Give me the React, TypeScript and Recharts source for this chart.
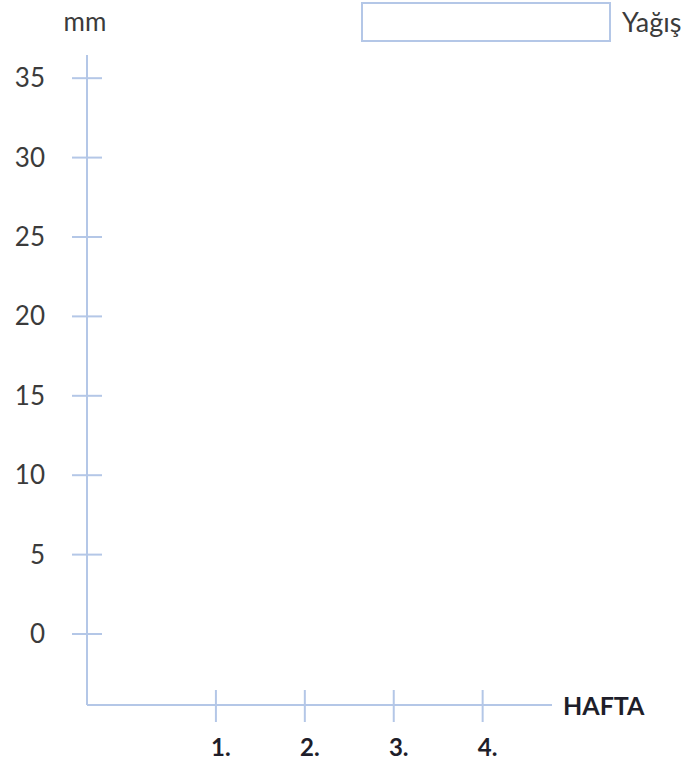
import React from 'react';
import { ComposedChart, Bar, XAxis, YAxis, Legend, Label } from 'recharts';

// Boş şablon: haftalık yağış (mm) — değerler henüz girilmemiş
const weeks = [1, 2, 3, 4];
const rainfall: (number | null)[] = [null, null, null, null];
const yTicks = [0, 5, 10, 15, 20, 25, 30, 35];
const seriesName = 'Yağış';

const data = weeks.map((w, i) => ({ week: w, yagis: rainfall[i] }));

const AXIS = '#b4c7e7';
const TEXT = '#3b3b3b';
const DARK = '#1e1e2a';
const FONT = 'Lato, "Open Sans", sans-serif';

const YTick = (props: any) => {
    const { x, y, payload } = props;
    return (
        <g>
            <line x1={x - 15} x2={x + 15} y1={y} y2={y} stroke={AXIS} strokeWidth={2} />
            <text x={x - 42} y={y} dy={9} textAnchor="end" fontSize={26} fill={TEXT} fontFamily={FONT}>
                {payload.value}
            </text>
        </g>
    );
};

const XTick = (props: any) => {
    const { x, y, payload } = props;
    return (
        <g>
            <line x1={x} x2={x} y1={y - 15} y2={y + 17} stroke={AXIS} strokeWidth={2} />
            <text x={x + 5} y={y + 51} textAnchor="middle" fontSize={24} fontWeight="bold" fill={DARK} fontFamily={FONT}>
                {`${payload.value}.`}
            </text>
        </g>
    );
};

const LegendBox = () => (
    <div style={{ display: 'flex', alignItems: 'center', fontFamily: FONT, height: 40 }}>
        <div style={{ width: 246, height: 36, border: `2px solid ${AXIS}`, background: '#fff' }} />
        <span style={{ marginLeft: 11, fontSize: 27, color: TEXT, lineHeight: '40px' }}>{seriesName}</span>
    </div>
);

export default function App() {
    return (
        <div style={{ position: 'absolute', left: 0, top: 0, background: '#fff' }}>
            <ComposedChart
                width={696}
                height={767}
                data={data}
                margin={{ top: 15, right: 144, bottom: 0, left: 0 }}
            >
                <XAxis
                    dataKey="week"
                    type="number"
                    domain={[-0.45, 4.78]}
                    ticks={weeks}
                    height={62}
                    stroke={AXIS}
                    strokeWidth={2}
                    tickLine={false}
                    tickSize={0}
                    tickMargin={0}
                    tick={<XTick />}
                >
                    <Label
                        content={(p: any) => (
                            <text
                                x={p.viewBox.x + p.viewBox.width + 11}
                                y={p.viewBox.y + 10}
                                fontSize={25}
                                fontWeight="bold"
                                fill={DARK}
                                fontFamily={FONT}
                            >
                                HAFTA
                            </text>
                        )}
                    />
                </XAxis>
                <YAxis
                    type="number"
                    domain={[-4.47, 36.46]}
                    ticks={yTicks}
                    width={87}
                    stroke={AXIS}
                    strokeWidth={2}
                    tickLine={false}
                    tickSize={0}
                    tickMargin={0}
                    tick={<YTick />}
                    allowDataOverflow
                >
                    <Label
                        content={(p: any) => (
                            <text
                                x={p.viewBox.x + p.viewBox.width - 2}
                                y={p.viewBox.y - 24}
                                textAnchor="middle"
                                fontSize={26}
                                fill={TEXT}
                                fontFamily={FONT}
                            >
                                mm
                            </text>
                        )}
                    />
                </YAxis>
                <Legend
                    verticalAlign="top"
                    align="left"
                    content={<LegendBox />}
                    wrapperStyle={{ top: 2, left: 361, width: 335 }}
                />
                <Bar dataKey="yagis" name={seriesName} fill="#fff" barSize={40} isAnimationActive={false} />
            </ComposedChart>
        </div>
    );
}
